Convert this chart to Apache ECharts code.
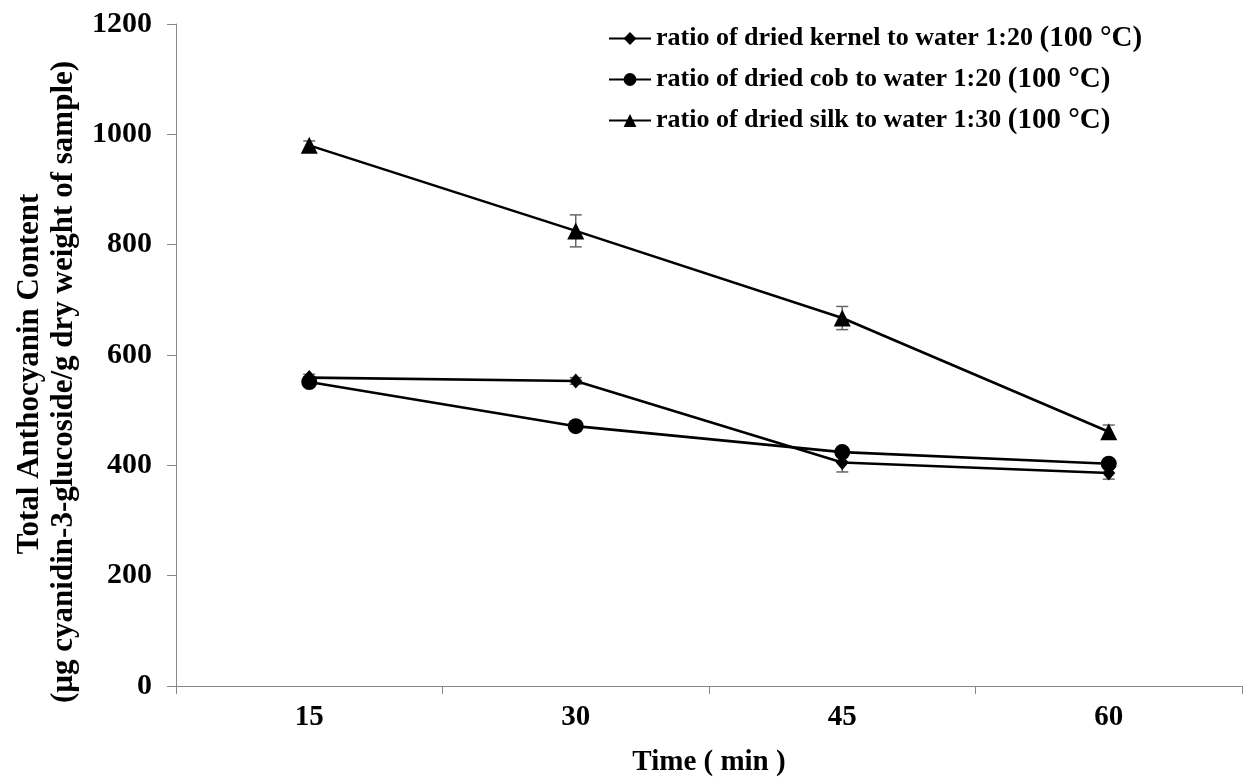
<!DOCTYPE html>
<html><head><meta charset="utf-8">
<script src="https://cdn.jsdelivr.net/npm/echarts@6/dist/echarts.min.js"></script>
<style>html,body{margin:0;padding:0;background:#fff}#c{width:1247px;height:783px}</style>
</head><body><div id="c"></div>
<script>
const categories = ['15', '30', '45', '60'];
const kernel = [559, 553, 405, 386];
const kernelErr = [6, 6, 17, 11];
const cob = [551, 471, 424, 403];
const cobErr = [5, 5, 6, 6];
const silk = [980, 825, 667, 461];
const silkErr = [8, 29, 21, 12];
const seriesNames = [
  'ratio of dried kernel to water 1:20',
  'ratio of dried cob to water 1:20',
  'ratio of dried silk to water 1:30'
];
const yTicks = [0, 200, 400, 600, 800, 1000, 1200];

const FONT = '"Liberation Serif", "Times New Roman", serif';
const chart = echarts.init(document.getElementById('c'));

function errSeries(vals, errs) {
  return {
    type: 'custom',
    silent: true,
    z: 1,
    data: vals.map((v, i) => [i, v, errs[i]]),
    renderItem: function (params, api) {
      const i = api.value(0), v = api.value(1), e = api.value(2);
      const top = api.coord([i, v + e]);
      const bot = api.coord([i, v - e]);
      const w = 6;
      const st = { stroke: '#666', lineWidth: 1.5 };
      return {
        type: 'group',
        children: [
          { type: 'line', shape: { x1: top[0], y1: top[1], x2: bot[0], y2: bot[1] }, style: st },
          { type: 'line', shape: { x1: top[0] - w, y1: top[1], x2: top[0] + w, y2: top[1] }, style: st },
          { type: 'line', shape: { x1: bot[0] - w, y1: bot[1], x2: bot[0] + w, y2: bot[1] }, style: st }
        ]
      };
    }
  };
}

function lineSeries(name, vals, symbol, size) {
  return {
    name: name,
    type: 'line',
    data: vals,
    symbol: symbol,
    symbolSize: size,
    showAllSymbol: true,
    z: 3,
    lineStyle: { color: '#000', width: 2.6 },
    itemStyle: { color: '#000' }
  };
}

chart.setOption({
  animation: false,
  backgroundColor: '#fff',
  grid: { left: 176, right: 5, top: 24, bottom: 97 },
  legend: {
    orient: 'vertical',
    left: 603,
    top: 19,
    itemGap: 12,
    itemWidth: 42,
    itemHeight: 16,
    data: seriesNames,
    formatter: function (n) { return '{a|' + n + '}  {b|(100 °C)}'; },
    textStyle: {
      color: '#000',
      rich: {
        a: { fontFamily: FONT, fontWeight: 'bold', fontSize: 26, color: '#000' },
        b: { fontFamily: FONT, fontWeight: 'bold', fontSize: 29, color: '#000' }
      }
    }
  },
  xAxis: {
    type: 'category',
    data: categories,
    boundaryGap: true,
    axisLine: { lineStyle: { color: '#888', width: 1 } },
    axisTick: { show: true, length: 8, lineStyle: { color: '#888' }, alignWithLabel: false },
    axisLabel: { fontFamily: FONT, fontWeight: 'bold', fontSize: 29, color: '#000', margin: 17 },
    name: 'Time ( min )',
    nameLocation: 'middle',
    nameGap: 62,
    nameTextStyle: { fontFamily: FONT, fontWeight: 'bold', fontSize: 29, color: '#000' }
  },
  yAxis: {
    type: 'value',
    min: yTicks[0],
    max: yTicks[yTicks.length - 1],
    interval: 200,
    splitLine: { show: false },
    axisLine: { show: true, lineStyle: { color: '#888', width: 1 } },
    axisTick: { show: true, length: 9, lineStyle: { color: '#888' } },
    axisLabel: {
      fontFamily: FONT, fontWeight: 'bold', fontSize: 30, color: '#000', margin: 24,
      formatter: function (v) { return String(v); }
    }
  },
  graphic: [
    {
      type: 'text',
      x: 30, y: 374,
      rotation: Math.PI / 2,
      style: {
        text: 'Total Anthocyanin Content',
        font: 'bold 31px ' + FONT,
        fill: '#000',
        textAlign: 'center',
        textVerticalAlign: 'middle'
      }
    },
    {
      type: 'text',
      x: 64, y: 382,
      rotation: Math.PI / 2,
      style: {
        text: '(µg cyanidin-3-glucoside/g dry weight of sample)',
        font: 'bold 31px ' + FONT,
        fill: '#000',
        textAlign: 'center',
        textVerticalAlign: 'middle'
      }
    }
  ],
  series: [
    lineSeries(seriesNames[0], kernel, 'diamond', [13, 15]),
    lineSeries(seriesNames[1], cob, 'circle', 16),
    lineSeries(seriesNames[2], silk, 'triangle', 17),
    errSeries(kernel, kernelErr),
    errSeries(cob, cobErr),
    errSeries(silk, silkErr)
  ]
});
</script>
</body></html>
